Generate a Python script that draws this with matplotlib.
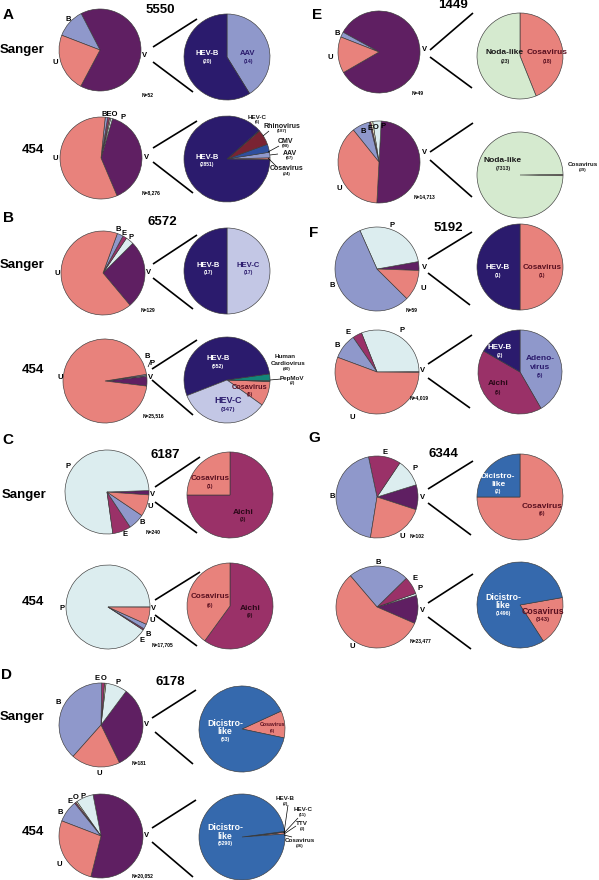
import matplotlib.pyplot as plt

plt.rcParams['font.family'] = ['Liberation Sans', 'DejaVu Sans']

W, H = 599, 880

# read categories (left pies): V virus, P phage, O other, E eukaryote, B bacteria, U unassigned
CATS = ["V", "P", "O", "E", "B", "U"]
CAT_COLORS = ["#5f1f62", "#dcedef", "#f3efc4", "#9a3168", "#8f98cb", "#e8827c"]

s5550_sanger = [34, 0, 0, 0, 6, 12]
s5550_454 = [3233, 60, 40, 60, 80, 4803]
s6572_sanger = [34, 4, 0, 2, 3, 86]
s6572_454 = [947, 80, 0, 0, 120, 24369]
s6187_sanger = [4, 184, 0, 17, 15, 20]
s6187_454 = [15, 16070, 0, 100, 340, 1180]
s6178_sanger = [59, 15, 1, 2, 70, 34]
s6178_454 = [11418, 1337, 110, 110, 1671, 5406]
s1449_sanger = [41, 0, 0, 0, 1, 7]
s1449_454 = [7352, 490, 120, 80, 1020, 5651]
s5192_sanger = [2, 17, 0, 0, 33, 7]
s5192_454 = [12, 1240, 0, 145, 390, 2232]
s6344_sanger = [10, 11, 0, 13, 45, 23]
s6344_454 = [2600, 200, 0, 1630, 5610, 13437]

# viral breakdown (right pies)
v5550_sanger_names = ["AAV", "HEV-B"]
v5550_sanger_counts = [14, 20]
v5550_454_names = ["Cosavirus", "AAV", "CMV", "Rhinovirus", "HEV-C", "HEV-B"]
v5550_454_counts = [24, 67, 98, 187, 6, 2851]
v6572_sanger_names = ["HEV-C", "HEV-B"]
v6572_sanger_counts = [17, 17]
v6572_454_names = ["Cosavirus", "PepMoV", "Human Cardiovirus", "HEV-B", "HEV-C"]
v6572_454_counts = [6, 2, 40, 552, 347]
v6572_454_drawn = [88, 3, 24, 508, 324]   # wedge sizes as drawn in the figure
v6187_sanger_names = ["Aichi", "Cosavirus"]
v6187_sanger_counts = [3, 1]
v6187_454_names = ["Aichi", "Cosavirus"]
v6187_454_counts = [9, 6]
v6178_sanger_names = ["Cosavirus", "Dicistro-like"]
v6178_sanger_counts = [6, 53]
v6178_454_names = ["Cosavirus", "TTV", "HEV-C", "HEV-B", "Dicistro-like"]
v6178_454_counts = [36, 3, 11, 2, 5290]
v1449_sanger_names = ["Cosavirus", "Noda-like"]
v1449_sanger_counts = [18, 23]
v1449_454_names = ["Cosavirus", "Noda-like"]
v1449_454_counts = [39, 7313]
v5192_sanger_names = ["Cosavirus", "HEV-B"]
v5192_sanger_counts = [1, 1]
v5192_454_names = ["Adenovirus", "Aichi", "HEV-B"]
v5192_454_counts = [5, 5, 2]
v6344_sanger_names = ["Cosavirus", "Dicistro-like"]
v6344_sanger_counts = [6, 2]
v6344_454_names = ["Cosavirus", "Dicistro-like"]
v6344_454_counts = [343, 1496]

VIRUS_COLORS = {
    "HEV-B": "#2b1b6d", "AAV": "#8f98cb", "HEV-C": "#c3c7e5",
    "Rhinovirus": "#7a2333", "CMV": "#2f4f9e", "Cosavirus": "#e8827c",
    "Aichi": "#9a3168", "Dicistro-like": "#3569ad", "Noda-like": "#d5eacf",
    "Human Cardiovirus": "#138679", "PepMoV": "#555555",
    "Adenovirus": "#8f98cb", "TTV": "#c3c7e5",
}

fig = plt.figure(figsize=(5.99, 8.80), dpi=100)
ax = fig.add_axes([0, 0, 1, 1])


def draw_pie(vals, cols, cx, cy, r, start, ccw=True):
    keep = [(v, c) for v, c in zip(vals, cols) if v > 0]
    ax.pie([v for v, _ in keep], colors=[c for _, c in keep],
           center=(cx, H - cy), radius=r, startangle=start, counterclock=ccw,
           wedgeprops=dict(edgecolor="#3a3a3a", linewidth=0.45))


def txt(x, y, s, size=5, color="black", weight="bold"):
    ax.text(x, H - y, s, fontsize=size, color=color, fontweight=weight,
            ha="center", va="center")


def seg(p, q, lw=1.2):
    ax.plot([p[0], q[0]], [H - p[1], H - q[1]], color="black", lw=lw,
            solid_capstyle="butt")


# ---- left (category) pies: data, centre, radius, start angle of V wedge
left_pies = [
    (s5550_sanger, 100, 50, 41, -118), (s5550_454, 101, 158, 41, -67),
    (s6572_sanger, 103, 273, 42, -50), (s6572_454, 105, 381, 42, -7),
    (s6187_sanger, 107, 492, 42, -4), (s6187_454, 108, 607, 42, -0.2),
    (s6178_sanger, 101, 725, 42, -64), (s6178_454, 101, 836, 42, -104),
    (s1449_sanger, 379, 52, 41, -150), (s1449_454, 379, 162, 41, -93),
    (s5192_sanger, 377, 269, 42, -2), (s5192_454, 377, 372, 42, -0.5),
    (s6344_sanger, 377, 497, 41, -18), (s6344_454, 377, 607, 41, -23.5),
]
for vals, cx, cy, r, st in left_pies:
    draw_pie(vals, CAT_COLORS, cx, cy, r, st, True)

# ---- right (viral) pies
right_pies = [
    (v5550_sanger_counts, v5550_sanger_names, 227, 57, 43, 90, False),
    (v5550_454_counts, v5550_454_names, 227, 159, 43, -1, True),
    (v6572_sanger_counts, v6572_sanger_names, 227, 271, 43, 90, False),
    (v6572_454_drawn, v6572_454_names, 227, 380, 43, -35.5, True),
    (v6187_sanger_counts, v6187_sanger_names, 230, 495, 43, 90, False),
    (v6187_454_counts, v6187_454_names, 230, 606, 43, 90, False),
    (v6178_sanger_counts, v6178_sanger_names, 242, 729, 43, -12, True),
    (v6178_454_counts, v6178_454_names, 242, 837, 43, 4, True),
    (v1449_sanger_counts, v1449_sanger_names, 520, 56, 43, 90, False),
    (v1449_454_counts, v1449_454_names, 520, 175, 43, -1, True),
    (v5192_sanger_counts, v5192_sanger_names, 520, 267, 43, 90, False),
    (v5192_454_counts, v5192_454_names, 520, 372, 42, 90, False),
    (v6344_sanger_counts, v6344_sanger_names, 520, 497, 43, 90, False),
    (v6344_454_counts, v6344_454_names, 520, 605, 43, 10, False),
]
for vals, names, cx, cy, r, st, ccw in right_pies:
    draw_pie(vals, [VIRUS_COLORS[n] for n in names], cx, cy, r, st, ccw)

# ---- zoom connector lines
connectors = [
    ((153, 47), (197, 19), (153, 62), (193, 92)),
    ((153, 148), (197, 121), (153, 162), (193, 193)),
    ((153, 264), (197, 235), (153, 278), (193, 309)),
    ((152, 369), (197, 340), (152, 380), (193, 415)),
    ((155, 487), (200, 457), (155, 502), (197, 533)),
    ((155, 600), (200, 572), (155, 615), (197, 646)),
    ((152, 718), (196, 690), (155, 732), (193, 764)),
    ((152, 828), (196, 800), (152, 842), (193, 877)),
    ((430, 50), (473, 13), (430, 57), (472, 88)),
    ((430, 152), (473, 123), (430, 160), (472, 197)),
    ((428, 259), (472, 232), (428, 273), (470, 305)),
    ((428, 364), (472, 335), (428, 378), (470, 408)),
    ((428, 489), (473, 461), (428, 503), (471, 535)),
    ((428, 603), (473, 574), (428, 617), (471, 649)),
]
for a, b, c, d in connectors:
    seg(a, b)
    seg(c, d)

# ---- panel letters, sample ids, row labels
for s, x, y in [("A", 8, 15), ("B", 8, 218), ("C", 8, 440), ("D", 7, 675),
                ("E", 317, 15), ("F", 314, 233), ("G", 314, 438)]:
    txt(x, y, s, 11)
for s, x, y in [("5550", 160, 10), ("6572", 162, 222), ("6187", 165, 455),
                ("6178", 170, 682), ("1449", 453, 5), ("5192", 448, 228),
                ("6344", 443, 454)]:
    txt(x, y, s, 9.5)
for s, x, y in [("Sanger", 22, 50), ("454", 33, 150), ("Sanger", 22, 265),
                ("454", 33, 370), ("Sanger", 24, 495), ("454", 33, 602),
                ("Sanger", 22, 717), ("454", 33, 832)]:
    txt(x, y, s, 9.5)

# ---- N labels
for s, x, y in [("N=52", 148, 95), ("N=8,276", 151, 193), ("N=129", 148, 310),
                ("N=25,516", 153, 416), ("N=240", 153, 532),
                ("N=17,705", 163, 645), ("N=181", 139, 763),
                ("N=20,052", 143, 876), ("N=49", 418, 93),
                ("N=14,713", 425, 197), ("N=59", 412, 310),
                ("N=4,019", 419, 398), ("N=102", 417, 537),
                ("N=23,477", 421, 641)]:
    txt(x, y, s, 3.6)

# ---- category letters around left pies
cat_labels = [
    ("B", 68, 19), ("U", 55, 62), ("V", 145, 55),
    ("BEO", 110, 114), ("P", 123, 117), ("U", 55, 158), ("V", 147, 157),
    ("B", 118, 229), ("E", 124, 233), ("P", 131, 237), ("U", 57, 273), ("V", 149, 272),
    ("B", 147, 356), ("P", 152, 363), ("U", 60, 377), ("V", 151, 377),
    ("P", 68, 466), ("V", 153, 494), ("U", 150, 506), ("B", 142, 522), ("E", 125, 535),
    ("P", 62, 608), ("V", 154, 608), ("U", 152, 620), ("B", 148, 635), ("E", 142, 640),
    ("E", 97, 679), ("O", 104, 679), ("P", 118, 682), ("B", 58, 703), ("V", 147, 725), ("U", 99, 773),
    ("E", 70, 801), ("O", 76, 797), ("P", 83, 796), ("B", 60, 812), ("V", 147, 835), ("U", 59, 864),
    ("B", 337, 33), ("U", 330, 57), ("V", 425, 49),
    ("B", 363, 131), ("E", 370, 128), ("O", 376, 127), ("P", 383, 126), ("U", 339, 188), ("V", 425, 152),
    ("P", 392, 225), ("V", 425, 267), ("U", 423, 288), ("B", 332, 285),
    ("E", 348, 332), ("P", 402, 330), ("B", 337, 345), ("V", 423, 370), ("U", 352, 417),
    ("E", 385, 452), ("P", 415, 468), ("V", 423, 497), ("B", 332, 496), ("U", 402, 536),
    ("B", 378, 563), ("E", 415, 579), ("P", 420, 589), ("V", 423, 611), ("U", 352, 646),
]
for s, x, y in cat_labels:
    txt(x, y, s, 5.5)

# ---- labels inside / around viral pies
WHITE, NAVY, MAROON, DARK = "white", "#2b1b6d", "#5a1020", "#1a1a1a"
AICHI_TXT = "#2a0818"
vir_labels = [
    # 5550
    ("HEV-B", 207, 53, 5.5, WHITE), ("(20)", 207, 61, 3.8, WHITE),
    ("AAV", 248, 53, 5.5, NAVY), ("(14)", 248, 61, 3.8, NAVY),
    ("HEV-B", 207, 157, 5.5, WHITE), ("(2851)", 207, 164, 3.6, WHITE),
    ("HEV-C", 257, 117, 4.5, DARK), ("(6)", 257, 122, 3, DARK),
    ("Rhinovirus", 282, 126, 5, DARK), ("(187)", 282, 131, 3.2, DARK),
    ("CMV", 286, 141, 5, DARK), ("(98)", 286, 146, 3.2, DARK),
    ("AAV", 290, 153, 5, DARK), ("(67)", 290, 158, 3.2, DARK),
    ("Cosavirus", 287, 168, 5, DARK), ("(24)", 287, 174, 3.2, DARK),
    # 6572
    ("HEV-B", 208, 265, 5.5, WHITE), ("(17)", 208, 272, 3.8, WHITE),
    ("HEV-C", 248, 265, 5.5, NAVY), ("(17)", 248, 272, 3.8, NAVY),
    ("HEV-B", 218, 358, 5.5, WHITE), ("(552)", 218, 366, 3.8, WHITE),
    ("Human", 285, 356, 4.5, DARK), ("Cardiovirus", 288, 363, 4.5, DARK),
    ("(40)", 287, 369, 3.2, DARK),
    ("PepMoV", 292, 378, 4.5, DARK), ("(2)", 292, 383, 3.2, DARK),
    ("Cosavirus", 250, 387, 5.3, MAROON), ("(6)", 250, 394, 3.6, MAROON),
    ("HEV-C", 228, 400, 6.5, NAVY), ("(347)", 228, 409, 4.5, NAVY),
    # 6187
    ("Cosavirus", 210, 478, 5.8, MAROON), ("(1)", 210, 486, 3.8, MAROON),
    ("Aichi", 243, 512, 6, AICHI_TXT), ("(3)", 243, 519, 3.8, AICHI_TXT),
    ("Cosavirus", 210, 597, 5.8, MAROON), ("(6)", 210, 605, 3.8, MAROON),
    ("Aichi", 250, 609, 6, AICHI_TXT), ("(9)", 250, 615, 3.8, AICHI_TXT),
    # 6178
    ("Dicistro-", 225, 723, 6.3, WHITE), ("like", 225, 732, 6.3, WHITE),
    ("(53)", 225, 740, 3.8, WHITE),
    ("Cosavirus", 272, 724, 3.8, MAROON), ("(6)", 272, 731, 3, MAROON),
    ("Dicistro-", 225, 827, 6.3, WHITE), ("like", 225, 836, 6.3, WHITE),
    ("(5290)", 225, 843, 3.8, WHITE),
    ("HEV-B", 285, 798, 4.5, DARK), ("(2)", 285, 804, 3.2, DARK),
    ("HEV-C", 303, 809, 4.5, DARK), ("(11)", 303, 815, 3.2, DARK),
    ("TTV", 302, 823, 4.5, DARK), ("(3)", 302, 829, 3.2, DARK),
    ("Cosavirus", 300, 840, 4.5, DARK), ("(36)", 300, 846, 3.2, DARK),
    # 1449
    ("Noda-like", 505, 52, 6, DARK), ("(23)", 505, 61, 3.8, DARK),
    ("Cosavirus", 547, 52, 6, MAROON), ("(18)", 547, 61, 3.8, MAROON),
    ("Noda-like", 503, 160, 6, DARK), ("(7313)", 503, 168, 3.8, DARK),
    ("Cosavirus", 583, 164, 4.5, DARK), ("(39)", 583, 170, 3.2, DARK),
    # 5192
    ("HEV-B", 498, 267, 5.8, WHITE), ("(1)", 498, 275, 3.8, WHITE),
    ("Cosavirus", 542, 267, 5.8, MAROON), ("(1)", 542, 275, 3.8, MAROON),
    ("HEV-B", 500, 347, 5.8, WHITE), ("(2)", 500, 355, 3.8, WHITE),
    ("Adeno-", 540, 358, 6, NAVY), ("virus", 540, 367, 6, NAVY),
    ("(5)", 540, 375, 3.8, NAVY),
    ("Aichi", 498, 383, 6, AICHI_TXT), ("(5)", 498, 392, 3.8, AICHI_TXT),
    # 6344
    ("Dicistro-", 498, 476, 6, WHITE), ("like", 498, 484, 6, WHITE),
    ("(2)", 498, 491, 3.8, WHITE),
    ("Cosavirus", 542, 506, 6, MAROON), ("(6)", 542, 514, 3.8, MAROON),
    ("Dicistro-", 503, 597, 6.3, WHITE), ("like", 503, 605, 6.3, WHITE),
    ("(1496)", 503, 613, 3.8, WHITE),
    ("Cosavirus", 543, 611, 6.3, MAROON), ("(343)", 543, 619, 4.2, MAROON),
]
for s, x, y, size, col in vir_labels:
    txt(x, y, s, size, col)

# small leader lines for labels of thin wedges
leaders = [
    ((263, 136), (269, 131)), ((268, 152), (279, 146)), ((270, 155), (278, 154)),
    ((268, 158), (277, 167)), ((270, 380), (281, 379)),
    ((148, 367), (151, 360)),
    ((284, 833), (288, 805)), ((284, 833), (298, 818)), ((284, 834), (296, 826)),
    ((284, 835), (292, 837)),
]
for p, q in leaders:
    seg(p, q, lw=0.5)

ax.set_xlim(0, W)
ax.set_ylim(0, H)
ax.set_aspect("equal")
ax.axis("off")
fig.savefig("out.png", dpi=100, facecolor="white")
